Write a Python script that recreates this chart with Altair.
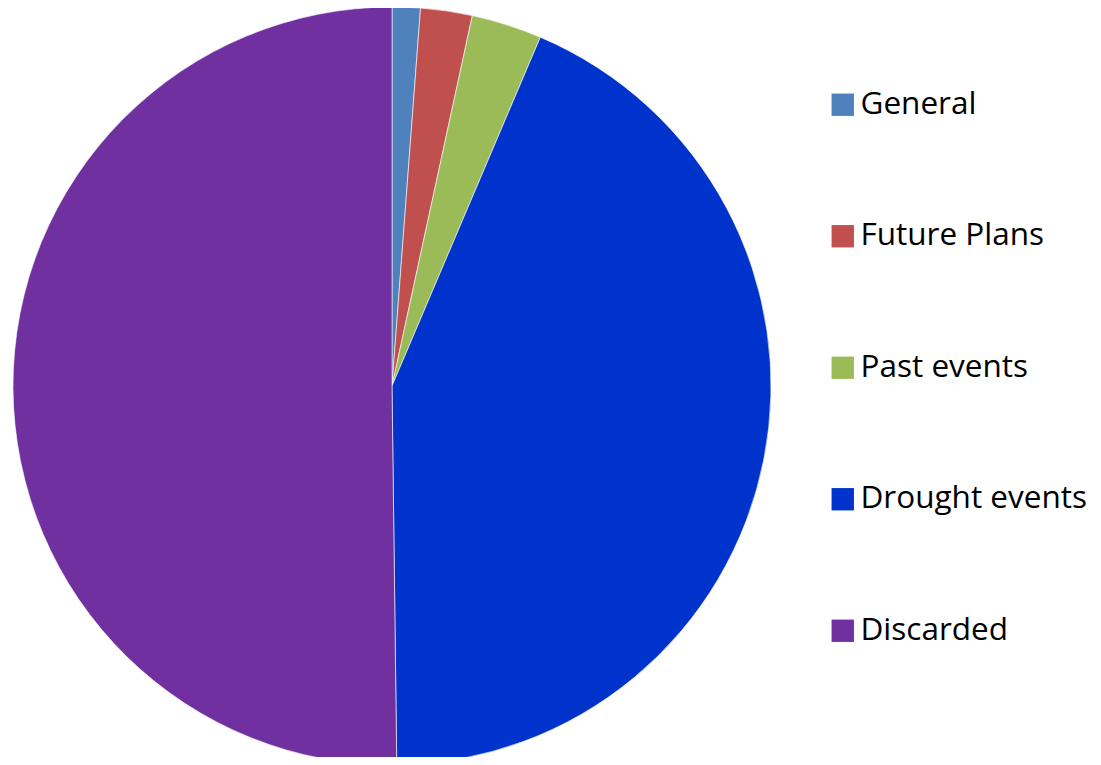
import altair as alt
import pandas as pd

categories = ["General", "Future Plans", "Past events", "Drought events", "Discarded"]
shares = [1.2, 2.2, 3.0, 43.4, 50.2]
colors = ["#4F81BD", "#C0504D", "#9BBB59", "#0033CC", "#7030A0"]

df = pd.DataFrame({"category": categories, "share": shares, "order": list(range(len(categories)))})

chart = alt.Chart(df).mark_arc(radius=379, stroke="#ffffff", strokeWidth=0.6).encode(
    theta=alt.Theta("share:Q", stack=True),
    order=alt.Order("order:Q"),
    x=alt.value(384),
    y=alt.value(378),
    color=alt.Color(
        "category:N",
        scale=alt.Scale(domain=categories, range=colors),
        sort=categories,
        legend=alt.Legend(
            title=None,
            orient="none",
            legendX=819,
            legendY=81,
            symbolType="square",
            symbolSize=500,
            symbolStrokeWidth=0,
            labelFontSize=31.5,
            labelFont="Open Sans",
            labelColor="#000000",
            labelOffset=2,
            rowPadding=98.5,
            labelLimit=400,
        ),
    ),
).properties(
    width=1085,
    height=749,
    padding=0,
    autosize=alt.AutoSizeParams(type="none"),
).configure_view(stroke=None)

chart.save("out.html", embed_options={"renderer": "svg", "actions": False})
